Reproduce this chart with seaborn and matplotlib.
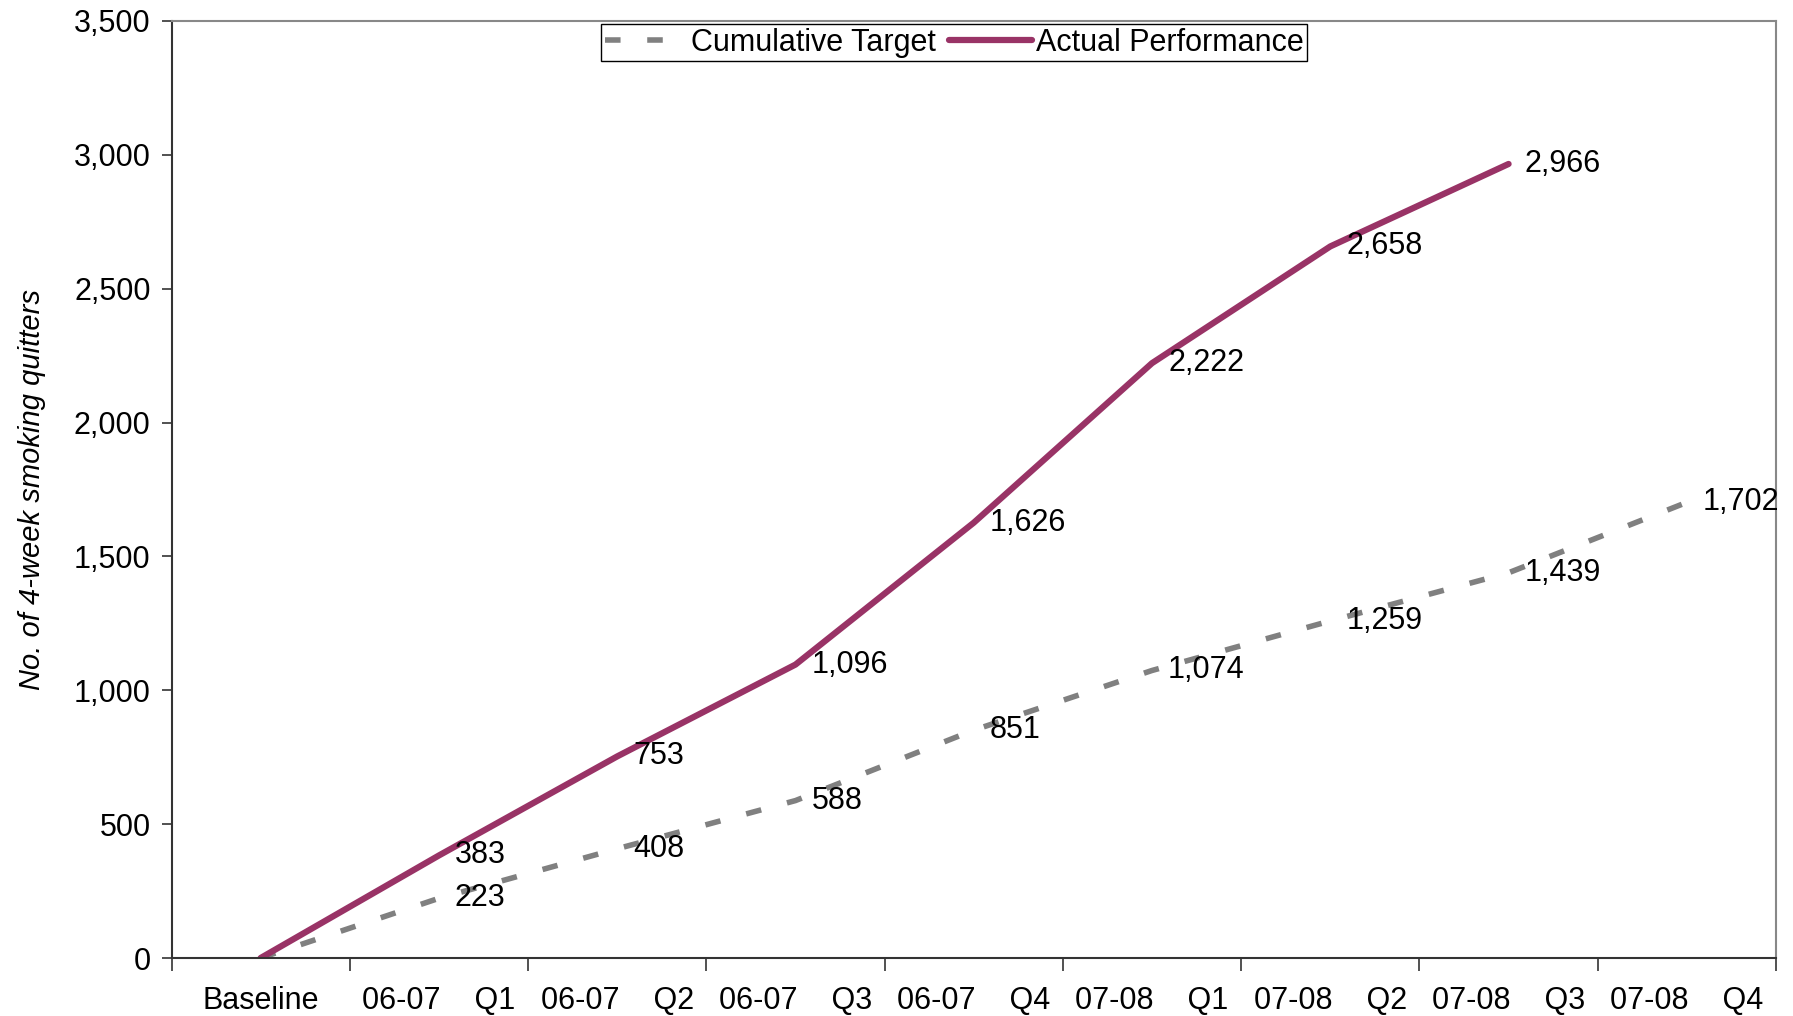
import matplotlib
matplotlib.use("Agg")
import matplotlib.pyplot as plt
import seaborn as sns
import pandas as pd
import numpy as np
from matplotlib.ticker import FuncFormatter, FixedLocator

categories = ["Baseline", "06-07 Q1", "06-07 Q2", "06-07 Q3", "06-07 Q4",
              "07-08 Q1", "07-08 Q2", "07-08 Q3", "07-08 Q4"]
target = [0, 223, 408, 588, 851, 1074, 1259, 1439, 1702]
actual = [0, 383, 753, 1096, 1626, 2222, 2658, 2966, np.nan]
tick_labels = ["Baseline", "06-07    Q1", "06-07    Q2", "06-07    Q3", "06-07    Q4",
               "07-08    Q1", "07-08    Q2", "07-08    Q3", "07-08    Q4"]

sns.set_theme(style="white")
plt.rcParams['font.family'] = ['Liberation Sans', 'DejaVu Sans']
plt.rcParams['text.color'] = 'black'
plt.rcParams['axes.labelcolor'] = 'black'
plt.rcParams['xtick.color'] = 'black'
plt.rcParams['ytick.color'] = 'black'

FS = 22

fig = plt.figure(figsize=(17.93, 10.16), dpi=100)
ax = fig.add_axes([171.5/1793, 1 - 958/1016, (1776-171.5)/1793, (958-21)/1016])

pos = np.arange(len(categories))
df_t = pd.DataFrame({"x": pos, "y": target})
df_a = pd.DataFrame({"x": pos, "y": actual}).dropna()

sns.lineplot(data=df_t, x="x", y="y", ax=ax, color="#808080", linewidth=4.0,
             label="Cumulative Target")
ax.lines[-1].set_linestyle((0, (2.8, 4.8)))
ax.lines[-1].set_dash_capstyle("butt")
sns.lineplot(data=df_a, x="x", y="y", ax=ax, color="#993366", linewidth=4.5,
             label="Actual Performance")

for x, v in zip(pos, target):
    if v > 0:
        ax.annotate(f"{int(v):,}", (x, v), xytext=(16, 0), textcoords="offset pixels",
                    va="center", ha="left", fontsize=FS, color="black")
for x, v in zip(pos, actual):
    if not np.isnan(v) and v > 0:
        ax.annotate(f"{int(v):,}", (x, v), xytext=(16, 0), textcoords="offset pixels",
                    va="center", ha="left", fontsize=FS, color="black")

ax.set_xlim(-0.5, len(categories) - 0.5)
ax.set_ylim(0, 3500)
ax.set_yticks(np.arange(0, 3501, 500))
ax.yaxis.set_major_formatter(FuncFormatter(lambda v, p: f"{int(v):,}"))
ax.tick_params(axis="y", which="major", direction="out", length=7, width=1.2,
               color="#333333", labelcolor="black", labelsize=FS, left=True, pad=8)

ax.xaxis.set_major_locator(FixedLocator(np.arange(-0.5, len(categories), 1.0)))
ax.set_xticklabels([])
ax.xaxis.set_minor_locator(FixedLocator(pos))
ax.set_xticklabels(tick_labels, minor=True)
ax.tick_params(axis="x", which="major", direction="out", length=9, width=1.2,
               color="#333333", bottom=True)
ax.tick_params(axis="x", which="minor", length=0, labelsize=FS, labelcolor="black",
               pad=20, bottom=True)

ax.set_xlabel("")
ax.set_ylabel("No. of 4-week smoking quitters", fontsize=21, fontstyle="italic",
              labelpad=20, color="black")

for s in ["left", "bottom"]:
    ax.spines[s].set_color("#333333")
    ax.spines[s].set_linewidth(1.5)
for s in ["top", "right"]:
    ax.spines[s].set_visible(True)
    ax.spines[s].set_color("#888888")
    ax.spines[s].set_linewidth(1.5)

leg = ax.legend(loc="upper center", bbox_to_anchor=(0.4877, 1.0), ncol=2, fontsize=FS,
                frameon=True, fancybox=False, edgecolor="black", framealpha=1,
                handlelength=2.7, handletextpad=0.12, columnspacing=0.45,
                borderpad=0.12, borderaxespad=0.1)
leg.get_frame().set_linewidth(1.0)

fig.savefig("out.png", dpi=100)
